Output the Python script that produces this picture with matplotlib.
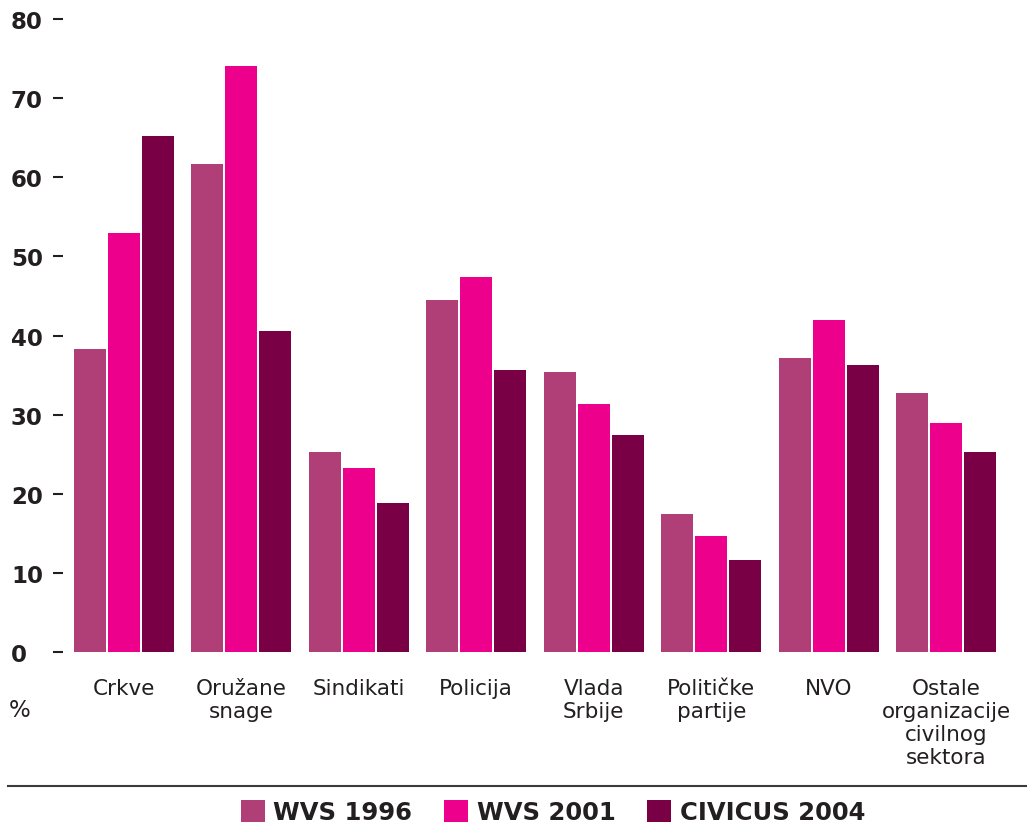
import numpy as np
import matplotlib
matplotlib.use("Agg")
import matplotlib.pyplot as plt
from matplotlib.lines import Line2D
from matplotlib.patches import Patch

plt.rcParams['font.family'] = ['DejaVu Sans']

# data
categories = ["Crkve", "Oružane\nsnage", "Sindikati", "Policija", "Vlada\nSrbije",
              "Političke\npartije", "NVO", "Ostale\norganizacije\ncivilnog\nsektora"]
wvs_1996 = [38.3, 61.7, 25.3, 44.5, 35.4, 17.4, 37.2, 32.7]
wvs_2001 = [53.0, 74.1, 23.3, 47.4, 31.4, 14.7, 42.0, 29.0]
civicus_2004 = [65.2, 40.6, 18.8, 35.7, 27.4, 11.6, 36.3, 25.3]
series_names = ["WVS 1996", "WVS 2001", "CIVICUS 2004"]
colors = ["#b03f78", "#ec008c", "#7a0045"]
yticks = [0, 10, 20, 30, 40, 50, 60, 70, 80]

text_col = "#231f20"

fig = plt.figure(figsize=(10.27, 8.28), dpi=100)
ax = fig.add_axes([63 / 1027, 175 / 828, 947 / 1027, 633 / 828])

x = np.arange(len(categories))
width = 0.272
step = 0.289
for i, (vals, col) in enumerate(zip([wvs_1996, wvs_2001, civicus_2004], colors)):
    ax.bar(x + (i - 1) * step, vals, width, color=col, label=series_names[i])

ax.set_xlim(-0.519, 7.544)
ax.set_ylim(0, 80)
for s in ax.spines.values():
    s.set_visible(False)

ax.set_yticks(yticks)
ax.set_yticklabels([str(t) for t in yticks], fontsize=16.5, fontweight='bold', color=text_col)
ax.tick_params(axis='y', length=7.5, width=1.5, color=text_col, pad=30)
for lab in ax.get_yticklabels():
    lab.set_horizontalalignment('left')

ax.set_xticks(x)
ax.set_xticklabels(categories, fontsize=15.5, color=text_col, linespacing=1.17, va='top')
ax.tick_params(axis='x', length=0, pad=19)

fig.text(20 / 1027, 1 - 711 / 828, "%", fontsize=16.5, color=text_col,
         ha='center', va='center')

# separator line
fig.add_artist(Line2D([8 / 1027, 1.0], [1 - 787 / 828, 1 - 787 / 828],
                      color="#3a3a3a", lw=1.5, transform=fig.transFigure))

handles = [Patch(facecolor=c) for c in colors]
leg = fig.legend(handles, series_names, loc='center', bbox_to_anchor=(553 / 1027, 1 - 813 / 828),
                 ncol=3, frameon=False, handlelength=1.0, handleheight=1.05,
                 handletextpad=0.35, columnspacing=1.3,
                 prop={'size': 17.5, 'weight': 'bold'})
for t in leg.get_texts():
    t.set_color(text_col)

fig.savefig("out.png", dpi=100, facecolor='white')
